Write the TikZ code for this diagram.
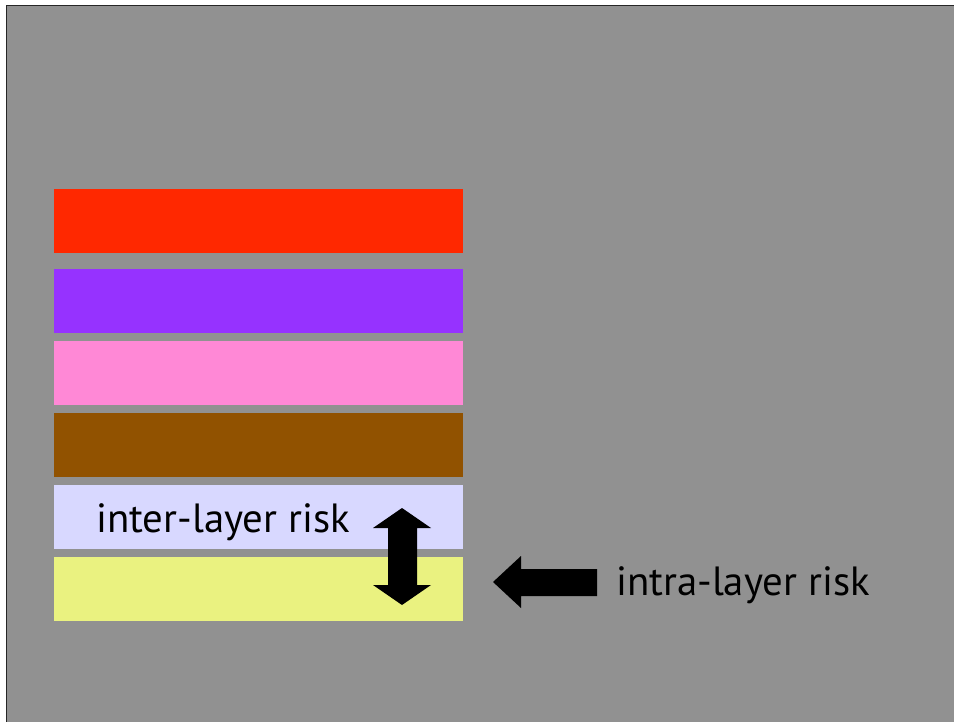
\documentclass[tikz,border=0pt]{standalone}
\usepackage{fontspec}
\setmainfont{PT Sans}
\definecolor{bg}{RGB}{145,145,145}
\definecolor{c1}{RGB}{255,40,0}
\definecolor{c2}{RGB}{150,50,255}
\definecolor{c3}{RGB}{255,136,214}
\definecolor{c4}{RGB}{145,82,0}
\definecolor{c5}{RGB}{216,216,255}
\definecolor{c6}{RGB}{234,242,128}
\begin{document}
\begin{tikzpicture}[x=1pt,y=-1pt,
  bar/.style={inner sep=0pt, minimum width=409pt, minimum height=64pt, anchor=north west},
  lbl/.style={inner sep=0pt, anchor=base west, font=\fontsize{40.8}{42}\selectfont, text=black}]
\useasboundingbox (0,0) rectangle (954,722);
\fill[white] (0,0) rectangle (954,722);
\fill[bg] (7,6) rectangle (954,722);
\draw[line width=1.5pt, black!85] (6.5,722) -- (6.5,5.5) -- (954,5.5);
\node[bar, fill=c1] (l1) at (54,189) {};
\node[bar, fill=c2] (l2) at (54,269) {};
\node[bar, fill=c3] (l3) at (54,341) {};
\node[bar, fill=c4] (l4) at (54,413) {};
\node[bar, fill=c5] (l5) at (54,485) {};
\node[bar, fill=c6] (l6) at (54,557) {};
\node[lbl] (t1) at (96,532) {inter-layer risk};
\node[lbl] (t2) at (616,595) {intra-layer risk};
% double arrow
\fill[black] (402,508) -- (431,528) -- (417,528) -- (417,585) -- (431,585) -- (402,605)
  -- (373,585) -- (388,585) -- (388,528) -- (373,528) -- cycle;
% left arrow
\fill[black] (493,582) -- (521,556) -- (521,569) -- (597,569) -- (597,596) -- (521,596) -- (521,608) -- cycle;
\end{tikzpicture}
\end{document}
